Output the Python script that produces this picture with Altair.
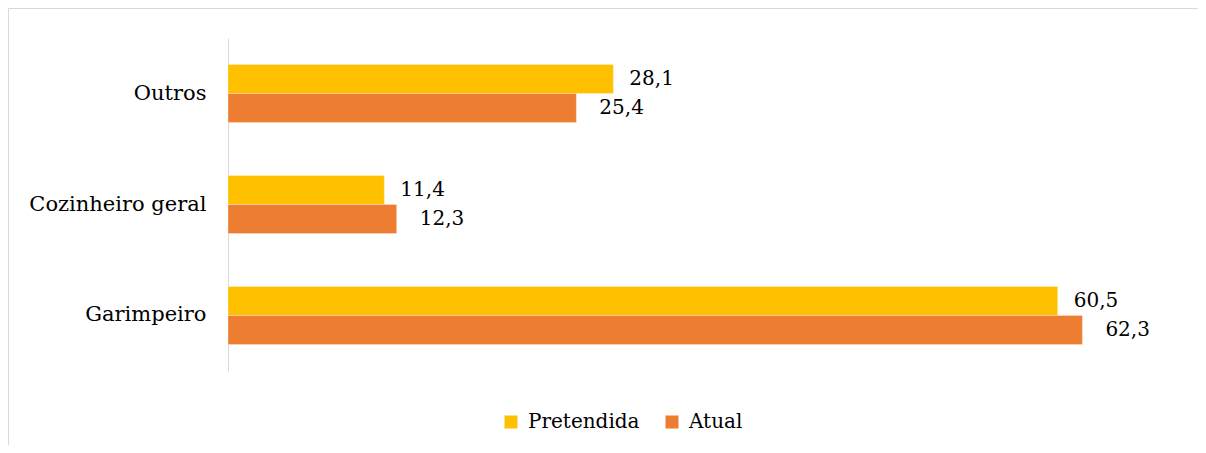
import altair as alt
import pandas as pd

categories = ["Outros", "Cozinheiro geral", "Garimpeiro"]
series = ["Pretendida", "Atual"]
pretendida = [28.1, 11.4, 60.5]
atual = [25.4, 12.3, 62.3]
colors = ["#FFC000", "#ED7D31"]

rows = []
for c, p, a in zip(categories, pretendida, atual):
    rows.append({"cat": c, "serie": "Pretendida", "v": p})
    rows.append({"cat": c, "serie": "Atual", "v": a})
df = pd.DataFrame(rows)

FONT = "DejaVu Serif"
FS = 20
W, H = 960, 333

base = alt.Chart(df).transform_calculate(
    lab="replace(format(datum.v, '.1f'), '.', ',')"
)

y_enc = alt.Y("cat:N", sort=categories,
              scale=alt.Scale(paddingInner=0.477, paddingOuter=0.239),
              axis=alt.Axis(title=None, ticks=False, labelPadding=22, labelLimit=400,
                            labelFont=FONT, labelFontSize=21, labelColor="black",
                            domainColor="#d9d9d9", domainWidth=1, grid=False))
x_enc = alt.X("v:Q", scale=alt.Scale(domain=[0, 70], nice=False), axis=None)
yoff = alt.YOffset("serie:N", sort=series, scale=alt.Scale(paddingInner=0, paddingOuter=0))

bars = base.mark_bar(stroke="white", strokeWidth=0.6, strokeOpacity=0.5).encode(
    y=y_enc, x=x_enc, yOffset=yoff,
    color=alt.Color("serie:N", sort=series,
                    scale=alt.Scale(domain=series, range=colors),
                    legend=alt.Legend(title=None, orient="none", legendX=273, legendY=374,
                                      direction="horizontal", symbolType="square",
                                      symbolSize=169, symbolStrokeWidth=0,
                                      labelFont=FONT, labelFontSize=FS, labelColor="black",
                                      labelOffset=7, columnPadding=22)),
)

txt_p = base.transform_filter("datum.serie == 'Pretendida'").mark_text(
    align="left", baseline="middle", dx=16, font=FONT, fontSize=FS, color="black"
).encode(y=y_enc, x=x_enc, yOffset=yoff, text="lab:N")

txt_a = base.transform_filter("datum.serie == 'Atual'").mark_text(
    align="left", baseline="middle", dx=23, font=FONT, fontSize=FS, color="black"
).encode(y=y_enc, x=x_enc, yOffset=yoff, text="lab:N")

frame = alt.Chart(pd.DataFrame({"a": [0]})).mark_rect(
    fill=None, stroke="#d9d9d9", strokeWidth=1
).encode(x=alt.value(-219.5), x2=alt.value(W + 60), y=alt.value(-29.5), y2=alt.value(H + 120))

chart = alt.layer(frame, bars, txt_p, txt_a).properties(
    width=W, height=H,
    autosize=alt.AutoSizeParams(type="none"),
    padding={"left": 220, "top": 30, "right": 10, "bottom": 74},
    background="white",
).configure_view(stroke=None)

chart.save("out.html", embed_options={"renderer": "svg", "actions": False})
